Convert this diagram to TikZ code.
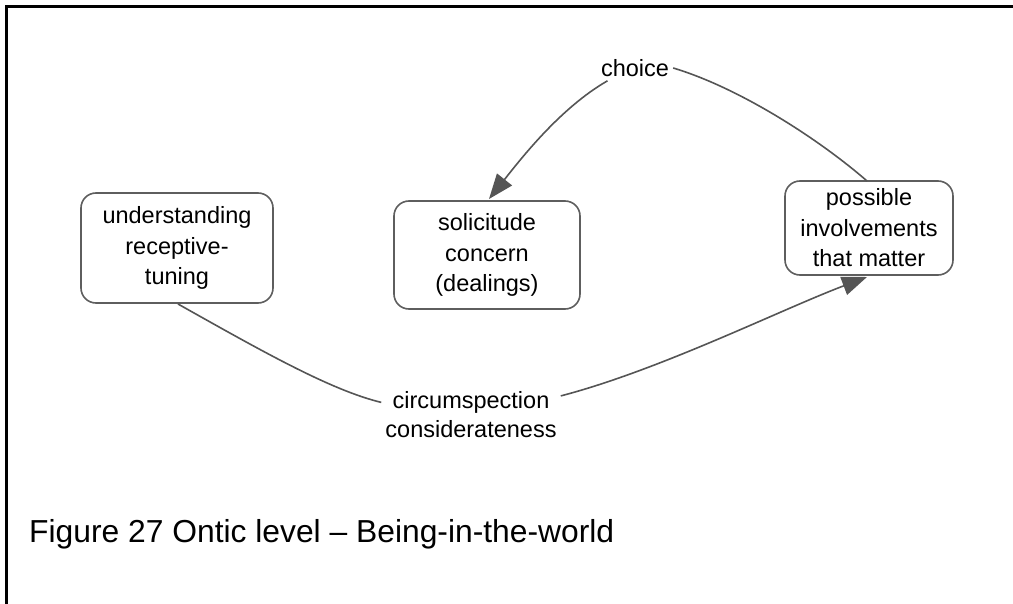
\documentclass[tikz,border=0pt]{standalone}
\usepackage{fontspec}
\setmainfont{Liberation Sans}
\usetikzlibrary{arrows.meta}
\definecolor{edgegray}{HTML}{555555}
\definecolor{boxgray}{HTML}{5E5E5E}
\tikzset{
  conceptbox/.style={draw=boxgray, line width=1.6pt, rounded corners=15pt,
    align=center, inner sep=0pt, font=\fontsize{23.5}{30.5}\selectfont},
  linklabel/.style={align=center, inner sep=4pt, font=\fontsize{23.5}{29}\selectfont},
  link/.style={draw=edgegray, line width=1.6pt},
  linkarrow/.style={link, -{Triangle[length=25pt,width=19pt]}, edgegray},
}
\begin{document}
\begin{tikzpicture}[x=1pt,y=-1pt]
  \useasboundingbox (0,0) rectangle (1013,604);
  % frame (left and top edges)
  \draw[line width=2.2pt] (6.5,604) -- (6.5,6.5) -- (1013,6.5);

  % concepts
  \node[conceptbox, minimum width=192pt, minimum height=110pt] (under) at (177,248)
    {understanding\\receptive-\\tuning};
  \node[conceptbox, minimum width=186pt, minimum height=108pt] (solic) at (487,255)
    {solicitude\\concern\\(dealings)};
  \node[conceptbox, minimum width=168pt, minimum height=94pt] (invol) at (869,228)
    {possible\\involvements\\that matter};

  % link labels
  \node[linklabel] (choice) at (635,68) {choice};
  \node[linklabel] (circ) at (471,415) {circumspection\\considerateness};

  % understanding -> circumspection -> possible involvements
  \draw[link] (178,304) .. controls (260,350) and (330,390) .. (circ.172);
  \draw[linkarrow] (circ.12) .. controls (660,370) and (780,310) .. (867,277);

  % possible involvements -> choice -> solicitude
  \draw[link] (867,181) .. controls (820,140) and (740,88) .. (choice.east);
  \draw[linkarrow] (choice.205) .. controls (560,108) and (520,160) .. (489,199);

  % caption
  \node[anchor=base west, inner sep=0pt, font=\fontsize{31.8}{36}\selectfont] (caption)
    at (29,542) {Figure 27 Ontic level – Being-in-the-world};
\end{tikzpicture}
\end{document}
